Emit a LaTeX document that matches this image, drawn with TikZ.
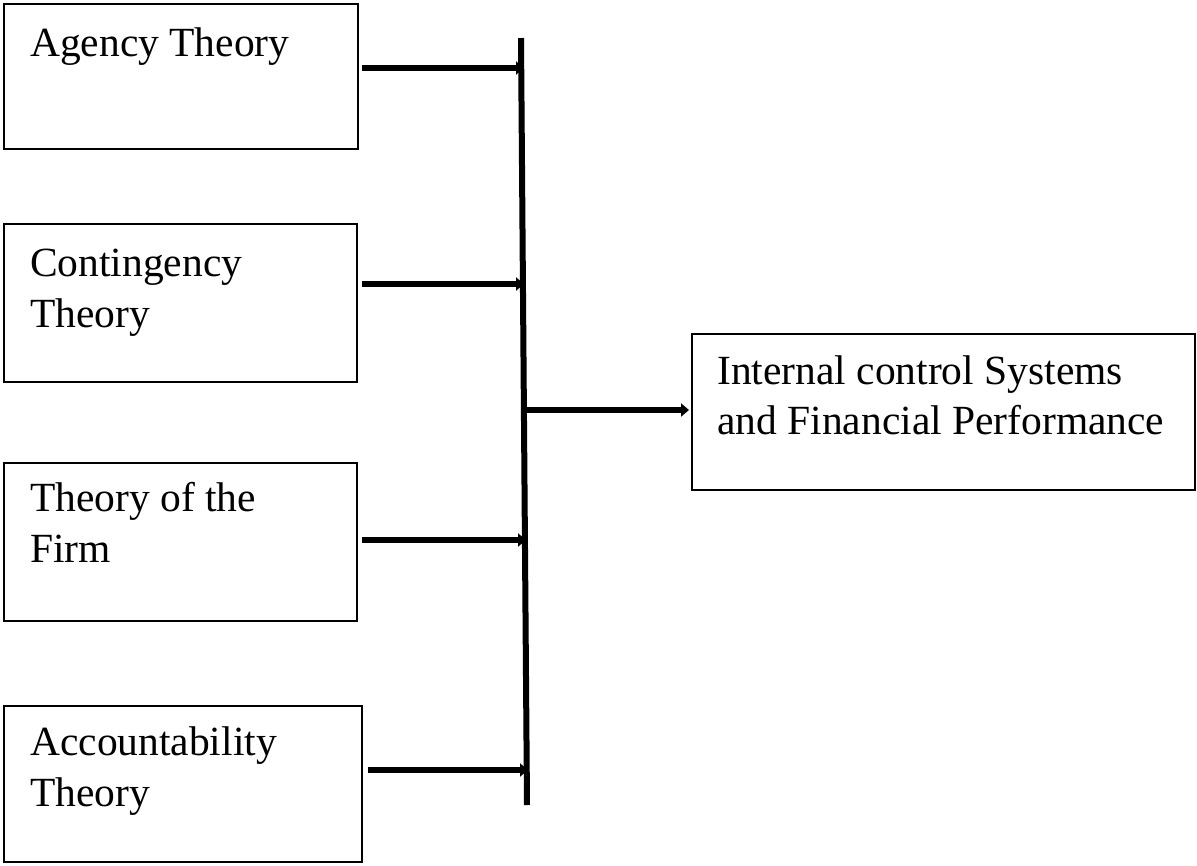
\documentclass[tikz,border=0pt]{standalone}
\usepackage{fontspec}
\setmainfont{Liberation Serif}
\usetikzlibrary{arrows.meta}
\begin{document}
\begin{tikzpicture}[x=1pt,y=-1pt,
  theorybox/.style={draw=black,line width=1.3pt},
  lbl/.style={anchor=base west,inner sep=0pt,font=\fontsize{41.5}{50}\selectfont},
  feed/.style={line width=6.5pt,-{Triangle[length=8pt,width=13pt]}}]
  \useasboundingbox (0,0) rectangle (1197,865);
  % theory boxes
  \draw[theorybox] (4,4) rectangle (358,149);
  \draw[theorybox] (4,224) rectangle (357,382);
  \draw[theorybox] (4,463) rectangle (357,621);
  \draw[theorybox] (4,706) rectangle (362,862);
  \draw[theorybox] (692,334) rectangle (1195,490);
  % labels
  \node[lbl] (t1) at (30,56) {Agency Theory};
  \node[lbl] (t2a) at (30,276) {Contingency};
  \node[lbl] (t2b) at (30,327) {Theory};
  \node[lbl] (t3a) at (30,511) {Theory of the};
  \node[lbl] (t3b) at (30,562) {Firm};
  \node[lbl] (t4a) at (30,755) {Accountability};
  \node[lbl] (t4b) at (30,806) {Theory};
  \node[lbl] (t5a) at (717,384) {Internal control Systems};
  \node[lbl] (t5b) at (717,434) {and Financial Performance};
  % collecting bar
  \coordinate (bt) at (521,38);
  \coordinate (bb) at (527,805);
  \draw[line width=6pt] (bt) -- (bb);
  % arrow sources and targets
  \coordinate (s1) at (362,68);   \coordinate (e1) at (524,68);
  \coordinate (s2) at (362,284);  \coordinate (e2) at (524,284);
  \coordinate (s3) at (362,540);  \coordinate (e3) at (526,540);
  \coordinate (s4) at (368,770);  \coordinate (e4) at (528,770);
  \coordinate (s5) at (524,410);  \coordinate (e5) at (689,410);
  \draw[feed] (s1) -- (e1);
  \draw[feed] (s2) -- (e2);
  \draw[feed] (s3) -- (e3);
  \draw[feed] (s4) -- (e4);
  \draw[feed] (s5) -- (e5);
\end{tikzpicture}
\end{document}
